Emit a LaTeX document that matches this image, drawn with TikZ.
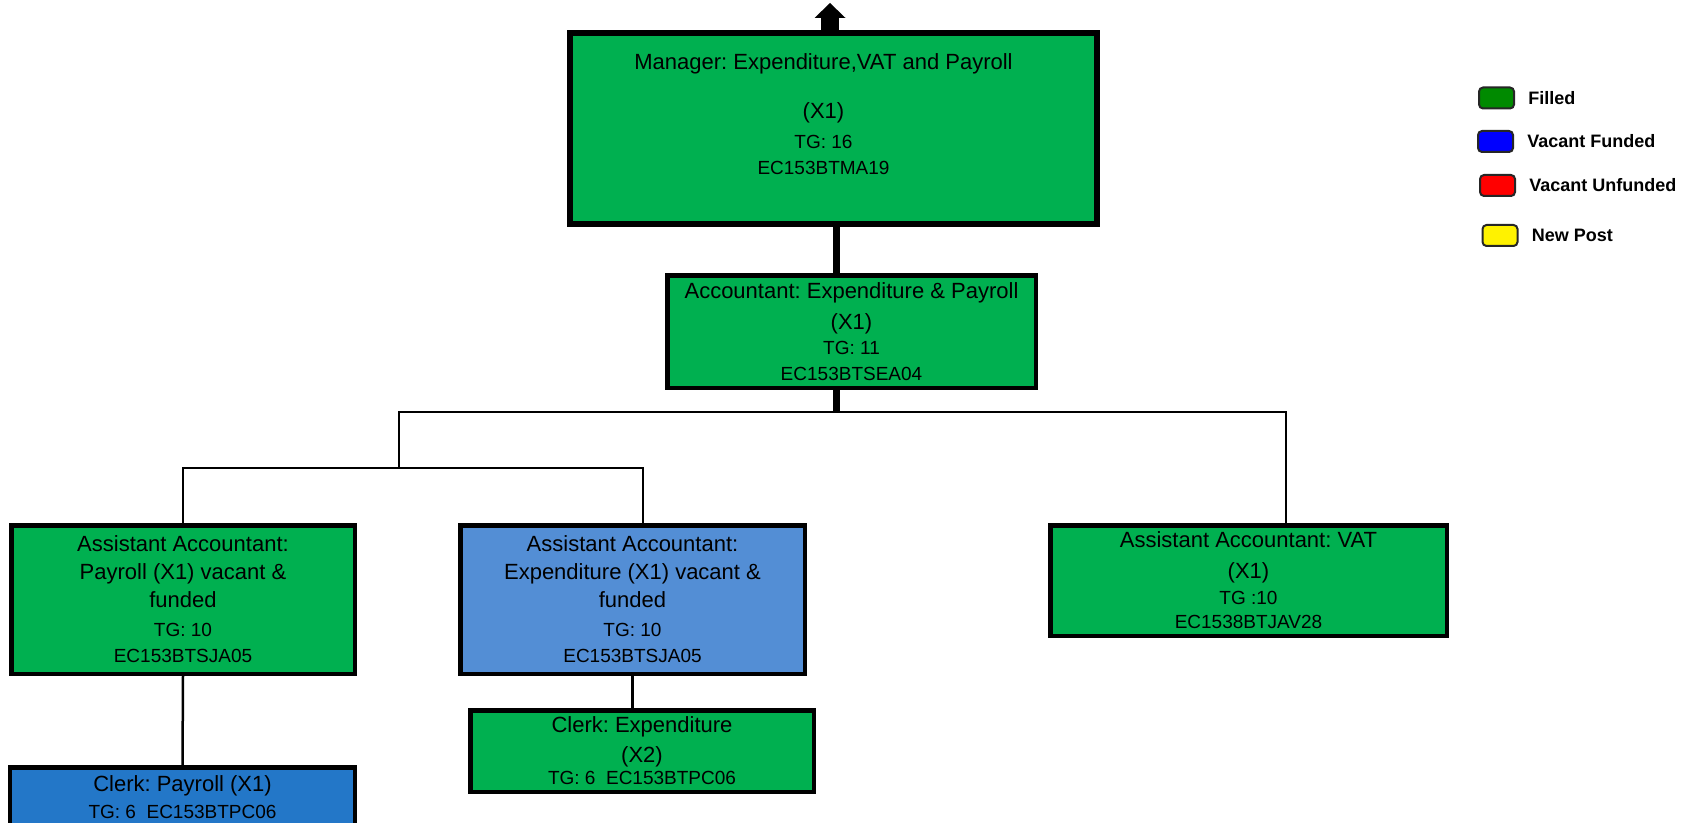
\documentclass[tikz,border=0pt]{standalone}
\usepackage{fontspec}
\setmainfont{Liberation Sans}
\usetikzlibrary{positioning,arrows.meta}
\definecolor{postgreen}{RGB}{0,176,80}
\definecolor{postblue}{RGB}{83,142,213}
\definecolor{clerkblue}{RGB}{35,119,200}
\definecolor{keygreen}{RGB}{0,138,0}
\newcommand{\subline}{\fontsize{9.5}{13}\selectfont}
\newcommand{\padr}{\rule{10pt}{0pt}}
\frenchspacing

\begin{document}
\begin{tikzpicture}[x=50pt, y=-50pt,
			post/.style={draw, line width=2.25pt, inner sep=0pt, align=center, font=\fontsize{11}{14}\selectfont},
			spine/.style={line width=3.5pt},
			link/.style={line width=1.25pt},
			key/.style={draw=black!85, line width=1pt, rounded corners=2pt, minimum width=17.5pt, minimum height=10.5pt, inner sep=0pt},
			keylbl/.style={font=\bfseries\fontsize{9}{11}\selectfont, inner sep=0pt}]
		\useasboundingbox (0,0) rectangle (16.90,8.23);
		% posts, top down
		\node[post, fill=postgreen, line width=3pt, minimum width=263.5pt, minimum height=95.5pt] (mgr) at (8.335,1.285)
			{Manager: Expenditure,VAT and Payroll\padr\\[10.25pt] (X1)\padr\\[1pt] {\subline TG: 16\padr}\\[-1pt] {\subline EC153BTMA19\padr}\\[0.5pt] \mbox{}};
		\node[post, fill=postgreen, minimum width=184.25pt, minimum height=56.25pt] (acc) at (8.515,3.315)
			{Accountant: Expenditure \& Payroll\\[1.5pt] (X1)\\[-1.5pt] {\subline TG: 11}\\[-1pt] {\subline EC153BTSEA04}};
		\node[post, fill=postgreen, minimum width=171.75pt, minimum height=74.25pt] (aaPay) at (1.83,5.995)
			{Assistant Accountant:\\ Payroll (X1) vacant \&\\ funded\\[0.5pt] {\subline TG: 10}\\[-1pt] {\subline EC153BTSJA05}};
		\node[post, fill=postblue, minimum width=172.25pt, minimum height=74.25pt] (aaExp) at (6.325,5.995)
			{Assistant Accountant:\\ Expenditure (X1) vacant \&\\ funded\\[0.5pt] {\subline TG: 10}\\[-1pt] {\subline EC153BTSJA05}};
		\node[post, fill=postgreen, minimum width=198.25pt, minimum height=55.25pt] (aaVat) at (12.485,5.805)
			{Assistant Accountant: VAT\\[1.5pt] (X1)\\[-1pt] {\subline TG :10}\\[-2pt] {\subline EC1538BTJAV28}};
		\node[post, fill=postgreen, minimum width=171.75pt, minimum height=40.75pt] (clkExp) at (6.42,7.51)
			{Clerk: Expenditure\\[1pt] (X2)\\[-3pt] {\subline TG: 6~ EC153BTPC06}};
		\node[post, fill=clerkblue, minimum width=172.25pt, minimum height=29.75pt] (clkPay) at (1.825,7.97)
			{Clerk: Payroll (X1)\\[-0.5pt] {\subline TG: 6~ EC153BTPC06}};
		% reporting lines
		\coordinate (up) at (8.30,0.03);
		\coordinate (b1) at (8.365,4.12);
		\coordinate (b2) at (3.99,4.68);
		\draw[line width=9pt, -{Triangle[width=15.5pt, length=7.5pt, line width=0pt]}] (mgr.north -| up) -- (up);
		\draw[spine] (mgr.south -| b1) -- (acc.north -| b1);
		\draw[spine] (acc.south -| b1) -- (b1);
		\draw[link] (b2) |- (b1) -| ([xshift=18.75pt]aaVat.north);
		\draw[link] (aaPay.north) |- (b2) -| ([xshift=5.25pt]aaExp.north);
		\draw[link] (aaPay.south) -- (clkPay.north);
		\draw[link] (aaExp.south) -- (aaExp.south |- clkExp.north);
		% legend
		\node[key, fill=keygreen] (kFill) at (14.965,0.98) {};
		\node[key, fill=blue] (kFund) at (14.955,1.415) {};
		\node[key, fill=red] (kUnfund) at (14.975,1.855) {};
		\node[key, fill=yellow] (kNew) at (15.00,2.355) {};
		\node[keylbl, right=6.5pt of kFill] (lFill) {Filled};
		\node[keylbl, right=6.5pt of kFund] (lFund) {Vacant Funded};
		\node[keylbl, right=6.5pt of kUnfund] (lUnfund) {Vacant Unfunded};
		\node[keylbl, right=6.5pt of kNew] (lNew) {New Post};
	\end{tikzpicture}
\end{document}
